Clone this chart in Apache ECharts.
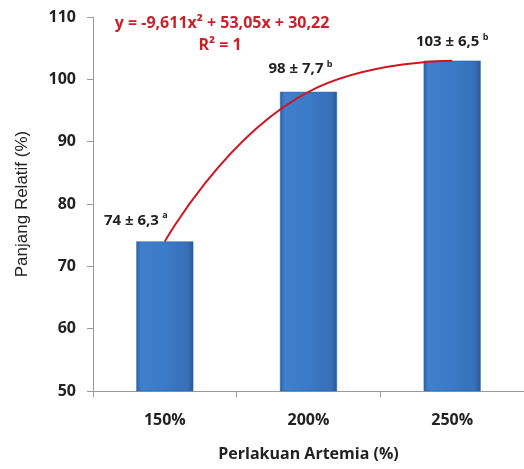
<!DOCTYPE html>
<html>
<head>
<meta charset="utf-8">
<script src="https://cdn.jsdelivr.net/npm/echarts@6/dist/echarts.min.js"></script>
<style>
  html, body { margin: 0; padding: 0; background: #ffffff; }
  #chart { width: 524px; height: 469px; }
</style>
</head>
<body>
<div id="chart"></div>
<script>
// Relative length by Artemia treatment level
const categories = ['150%', '200%', '250%'];
const meanValues = [74, 98, 103];
const sdValues = [6.3, 7.7, 6.5];
const groupLetters = ['a', 'b', 'b'];
const yTicks = [50, 60, 70, 80, 90, 100, 110];
const trendLabel = 'y = -9,611x² + 53,05x + 30,22';
const r2Label = 'R² = 1';

// per-bar label shifts, [dx, dy]
const labelShift = [[-29, -4], [-8, -6], [0, -2]];

const fmt = v => v.toFixed(1).replace('.', ',');

const chart = echarts.init(document.getElementById('chart'), null, { renderer: 'canvas' });

const barGradient = new echarts.graphic.LinearGradient(0, 0, 1, 0, [
  { offset: 0, color: '#2c5fa5' },
  { offset: 0.08, color: '#3f7fcc' },
  { offset: 0.5, color: '#3b7ac6' },
  { offset: 0.9, color: '#3670b8' },
  { offset: 1, color: '#2a5896' }
]);

const barData = meanValues.map((v, i) => ({
  value: v,
  label: {
    offset: labelShift[i],
    formatter: `{m|${v} ± ${fmt(sdValues[i])}} {s|${groupLetters[i]}}`
  }
}));

chart.setOption({
  animation: false,
  backgroundColor: '#ffffff',
  grid: { left: 93, right: -4, top: 17, bottom: 78 },
  xAxis: {
    type: 'category',
    data: categories,
    name: 'Perlakuan Artemia (%)',
    nameLocation: 'middle',
    nameGap: 55,
    nameTextStyle: { fontFamily: 'Open Sans', fontWeight: 'bold', fontSize: 16, color: '#222' },
    axisLine: { lineStyle: { color: '#9a9a9a', width: 1 } },
    axisTick: { show: true, length: 6, lineStyle: { color: '#9a9a9a' } },
    axisLabel: { margin: 21, fontFamily: 'Open Sans', fontWeight: 'bold', fontSize: 16, color: '#222' }
  },
  yAxis: {
    type: 'value',
    min: yTicks[0],
    max: yTicks[yTicks.length - 1],
    interval: 10,
    name: 'Panjang Relatif (%)',
    nameLocation: 'middle',
    nameGap: 62,
    nameTextStyle: { fontFamily: 'Liberation Sans', fontSize: 17, color: '#222' },
    axisLine: { show: true, lineStyle: { color: '#9a9a9a', width: 1 } },
    axisTick: { show: true, length: 6, lineStyle: { color: '#9a9a9a' } },
    splitLine: { show: false },
    axisLabel: { margin: 17, fontFamily: 'Open Sans', fontWeight: 'bold', fontSize: 16, color: '#222' }
  },
  series: [
    {
      type: 'bar',
      data: barData,
      barWidth: 57,
      itemStyle: { color: barGradient, borderColor: '#2f62a6', borderWidth: 0.5 },
      label: {
        show: true,
        position: 'top',
        distance: 8,
        rich: {
          m: { fontFamily: 'Open Sans', fontWeight: 'bold', fontSize: 15, color: '#222' },
          s: { fontFamily: 'Open Sans', fontWeight: 'bold', fontSize: 9, color: '#222', verticalAlign: 'top', padding: [0, 0, 9, 0] }
        }
      },
      z: 2
    },
    {
      type: 'line',
      data: meanValues,
      smooth: 0.5,
      showSymbol: false,
      lineStyle: { color: '#d0161f', width: 2 },
      z: 3
    }
  ],
  graphic: [
    {
      type: 'text',
      x: 222,
      y: 15,
      style: { text: trendLabel, font: 'bold 16px "Open Sans"', fill: '#c8212a', align: 'center' }
    },
    {
      type: 'text',
      x: 220,
      y: 37,
      style: { text: r2Label, font: 'bold 16px "Open Sans"', fill: '#c8212a', align: 'center' }
    }
  ]
});
</script>
</body>
</html>
